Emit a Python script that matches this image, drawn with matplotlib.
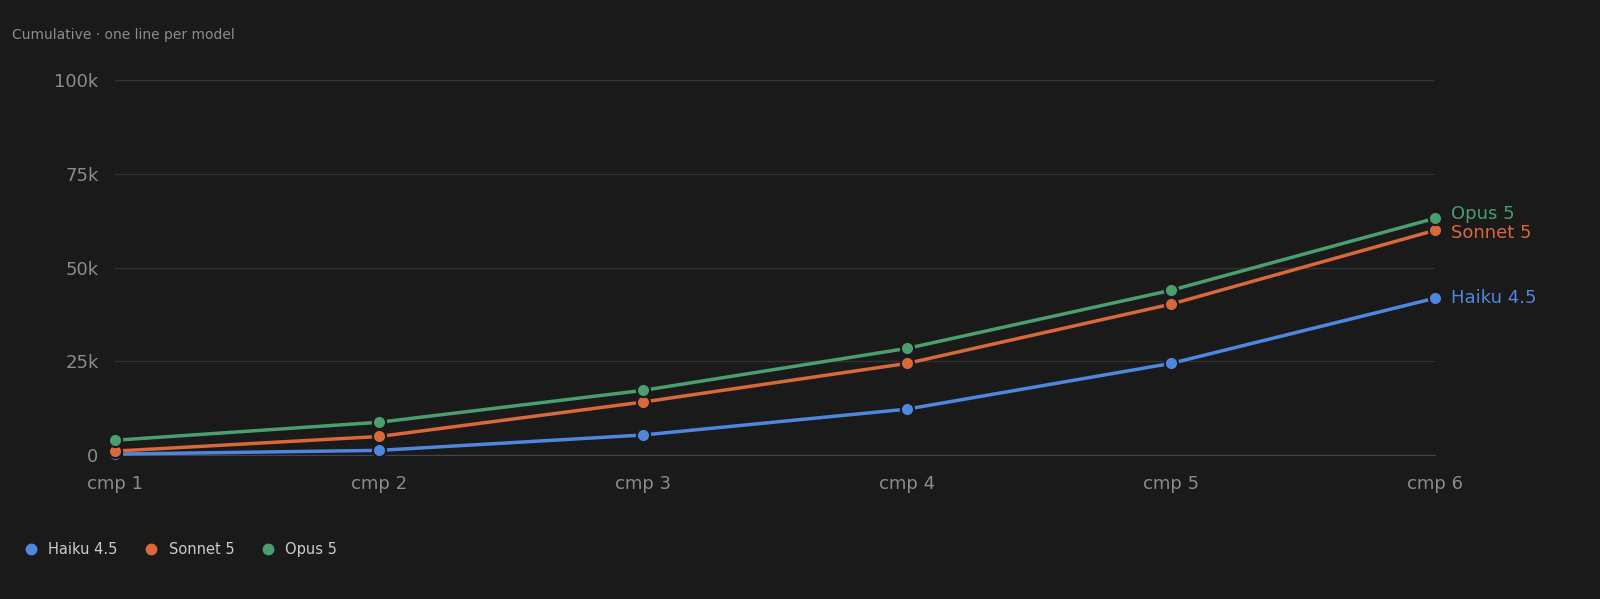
import matplotlib
matplotlib.use("Agg")
import matplotlib.pyplot as plt
from matplotlib.lines import Line2D

categories = ["cmp 1", "cmp 2", "cmp 3", "cmp 4", "cmp 5", "cmp 6"]
models = ["Haiku 4.5", "Sonnet 5", "Opus 5"]
haiku = [300, 1300, 5400, 12300, 24500, 41900]
sonnet = [1100, 5000, 14200, 24500, 40300, 60000]
opus = [4000, 8800, 17300, 28500, 44000, 63200]
yticks = [0, 25000, 50000, 75000, 100000]
ytick_labels = ["0", "25k", "50k", "75k", "100k"]
colors = ["#4f87e0", "#d9683a", "#4b9e70"]
label_offsets = [0, -700, 1200]

bg = "#1a1a1a"
fig = plt.figure(figsize=(16, 5.99), dpi=100, facecolor=bg)
ax = fig.add_axes([0.072, 0.240, 0.825, 0.626], facecolor=bg)
x = list(range(len(categories)))
for vals, c, name, off in zip([haiku, sonnet, opus], colors, models, label_offsets):
    ax.plot(x, vals, color=c, lw=2.5, marker="o", ms=9.5, mfc=c, mec=bg, mew=1.5, zorder=3, clip_on=False)
    ax.text(x[-1] + 0.06, vals[-1] + off, name, color=c, fontsize=13, va="center", ha="left")
ax.set_xlim(0, 5)
ax.set_ylim(0, 100000)
ax.set_yticks(yticks)
ax.set_yticklabels(ytick_labels)
ax.set_xticks(x)
ax.set_xticklabels(categories)
ax.grid(axis="y", color="#333333", lw=1)
ax.set_axisbelow(True)
for s in ["top", "right", "left"]:
    ax.spines[s].set_visible(False)
ax.spines["bottom"].set_color("#444444")
ax.tick_params(axis="both", length=0, colors="#8c8c8c", labelsize=13)
ax.tick_params(axis="y", pad=12)
ax.tick_params(axis="x", pad=14)
fig.text(0.0075, 0.942, "Cumulative · one line per model", color="#8c8c8c", fontsize=10, va="center")
handles = [Line2D([], [], marker="o", ls="", color=c, ms=7.5) for c in colors]
leg = fig.legend(handles, models, loc="center left", bbox_to_anchor=(0.002, 0.083), frameon=False,
                 ncol=3, fontsize=10.5, handletextpad=0.2, columnspacing=1.3, labelcolor="#cccccc")
fig.savefig("out.png", dpi=100, facecolor=bg)
